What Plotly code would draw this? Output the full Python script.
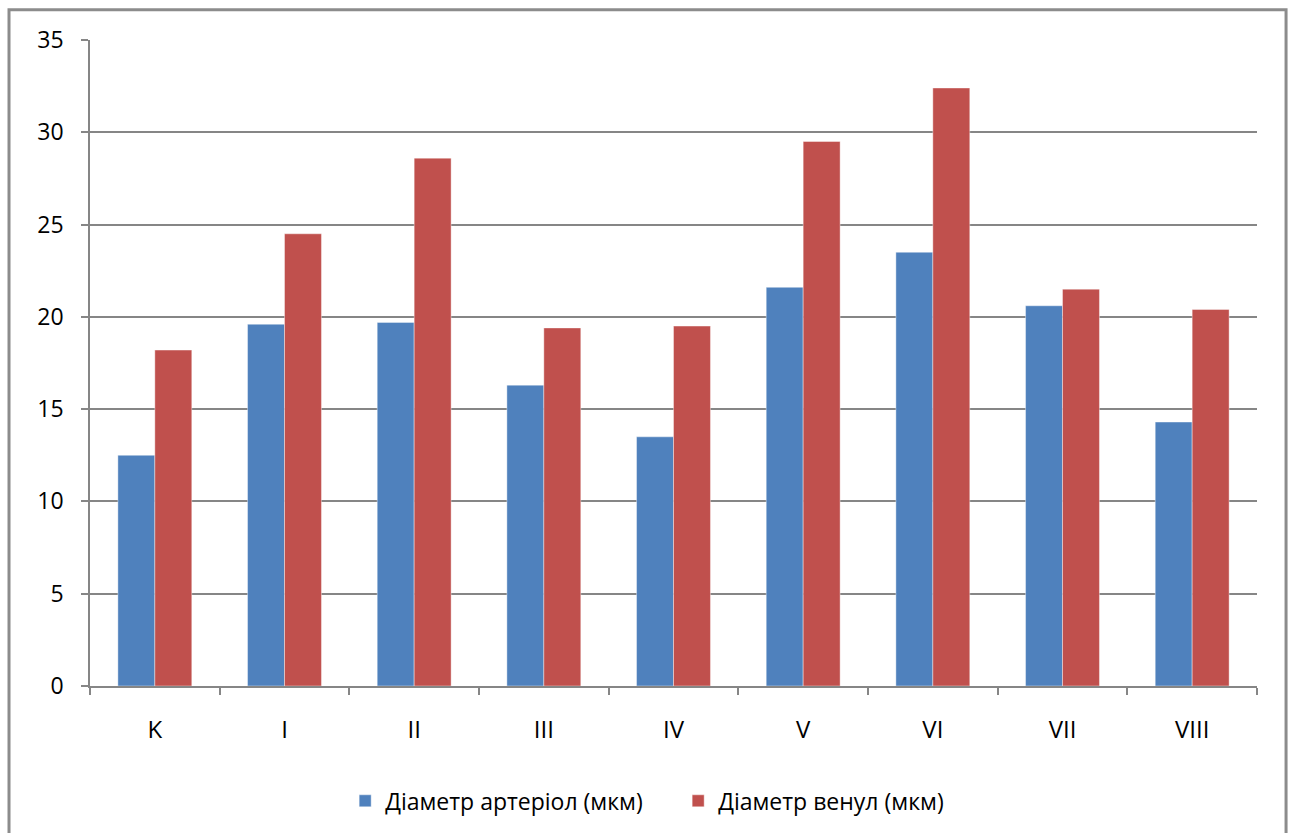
import plotly.graph_objects as go

categories = ["K", "I", "II", "III", "IV", "V", "VI", "VII", "VIII"]
arterioles = [12.5, 19.6, 19.7, 16.3, 13.5, 21.6, 23.5, 20.6, 14.3]
venules = [18.2, 24.5, 28.6, 19.4, 19.5, 29.5, 32.4, 21.5, 20.4]

series_names = ["Діаметр артеріол (мкм)", "Діаметр венул (мкм)"]
colors = ["#4F81BD", "#C0504D"]

fig = go.Figure()
for name, vals, col in zip(series_names, [arterioles, venules], colors):
    fig.add_trace(go.Bar(
        x=categories, y=vals, name=name,
        marker=dict(color=col, line=dict(color="rgba(255,255,255,0.5)", width=0.8)),
    ))

axis_grey = "#868686"
fig.update_layout(
    width=1291, height=833,
    margin=dict(l=90, r=34, t=40, b=146),
    paper_bgcolor="white", plot_bgcolor="white",
    barmode="group", bargap=0.43, bargroupgap=0,
    font=dict(family="Open Sans, Liberation Sans, sans-serif", size=23, color="black"),
    showlegend=True,
    legend=dict(orientation="h", x=0.504, xanchor="center", y=-0.176, yanchor="middle",
                font=dict(size=23), itemwidth=30, traceorder="normal",
                entrywidth=288, entrywidthmode="pixels"),
    xaxis=dict(
        showgrid=False, showline=True, linecolor=axis_grey, linewidth=1.5,
        ticks="outside", tickson="boundaries", ticklen=7, tickcolor=axis_grey, tickwidth=1.5,
        ticklabelstandoff=21, tickfont=dict(size=24),
    ),
    yaxis=dict(
        range=[0, 35], dtick=5, showgrid=True, gridcolor=axis_grey, gridwidth=1.5,
        showline=True, linecolor=axis_grey, linewidth=1.5,
        ticks="outside", ticklen=7, tickcolor=axis_grey, tickwidth=1.5,
        ticklabelstandoff=13, zeroline=False, tickfont=dict(size=23),
    ),
    shapes=[dict(type="rect", xref="paper", yref="paper",
                 x0=-0.0694, x1=1.0249, y0=-0.23, y1=1.047,
                 line=dict(color="#8c8c8c", width=3), fillcolor="rgba(0,0,0,0)", layer="below")],
)

fig.write_html("out.html")
